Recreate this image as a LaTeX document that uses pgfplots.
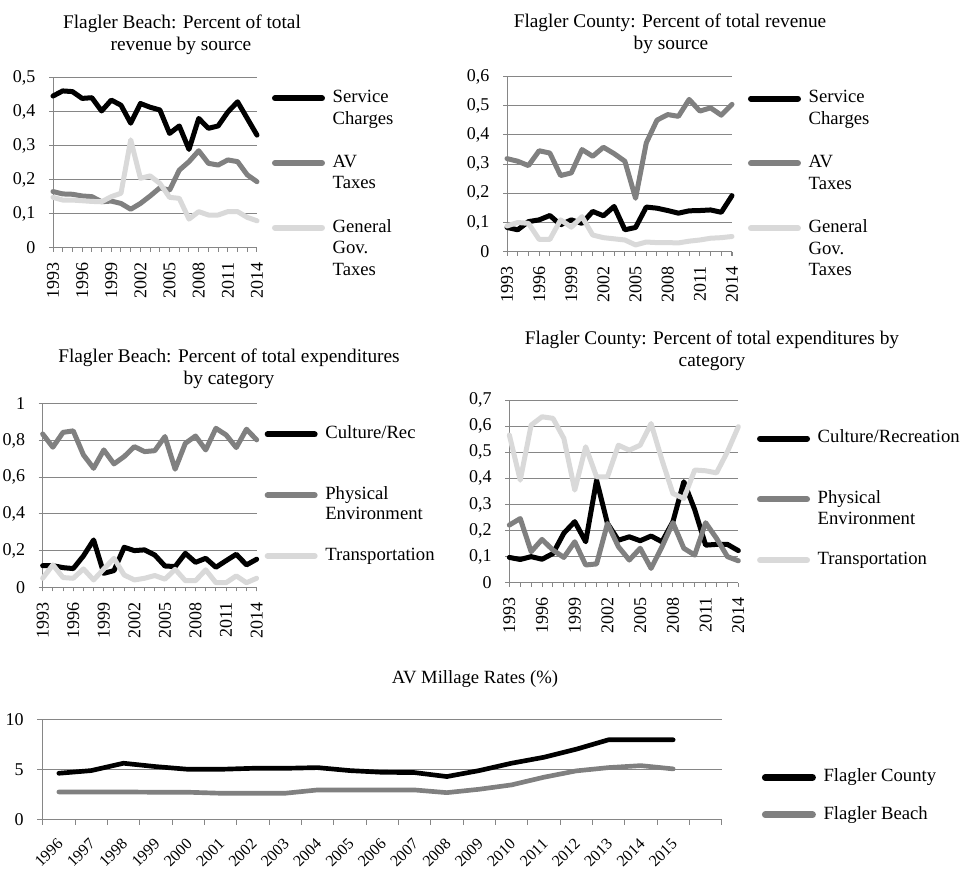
\documentclass[border=0pt]{standalone}
\usepackage{fontspec}
\setmainfont{Liberation Serif}
\usepackage{pgfplots}
\usepackage{pgfplotstable}
\pgfplotsset{compat=1.18}

\definecolor{sblack}{RGB}{0,0,0}
\definecolor{sgray}{RGB}{128,128,128}
\definecolor{slight}{RGB}{217,217,217}
\definecolor{axgray}{RGB}{134,134,134}

\newcommand\fs{\fontsize{13.5}{16.5}\selectfont}
\newcommand\fl{\fontsize{14}{16.5}\selectfont}
\newcommand\ft{\fontsize{14.5}{16.5}\selectfont}
\newcommand\ls{\rule[-3pt]{0pt}{13pt}}
% a legend row that carries only text (second line of an entry, or a gap)
\newcommand\more[1]{\addlegendimage{empty legend}\addlegendentry{\ls #1}}

% Flagler Beach revenue shares
\pgfplotstableread{
year sc av gg
1993 0.447 0.166 0.149
1994 0.462 0.159 0.141
1995 0.460 0.158 0.141
1996 0.440 0.153 0.139
1997 0.442 0.151 0.137
1998 0.403 0.136 0.136
1999 0.435 0.138 0.151
2000 0.420 0.131 0.161
2001 0.367 0.114 0.318
2002 0.425 0.131 0.205
2003 0.414 0.153 0.212
2004 0.406 0.177 0.190
2005 0.337 0.170 0.149
2006 0.359 0.229 0.146
2007 0.290 0.254 0.085
2008 0.381 0.286 0.107
2009 0.352 0.249 0.097
2010 0.359 0.244 0.097
2011 0.400 0.259 0.107
2012 0.430 0.254 0.107
2013 0.381 0.215 0.090
2014 0.332 0.195 0.080
}\beachrev

% Flagler County revenue shares
\pgfplotstableread{
year sc av gg
1993 0.083 0.319 0.088
1994 0.075 0.310 0.100
1995 0.103 0.295 0.097
1996 0.109 0.346 0.042
1997 0.124 0.338 0.042
1998 0.092 0.261 0.109
1999 0.109 0.270 0.084
2000 0.097 0.350 0.120
2001 0.138 0.327 0.057
2002 0.123 0.358 0.048
2003 0.155 0.336 0.044
2004 0.075 0.310 0.040
2005 0.083 0.183 0.023
2006 0.153 0.373 0.033
2007 0.149 0.451 0.031
2008 0.141 0.470 0.031
2009 0.132 0.464 0.030
2010 0.140 0.522 0.036
2011 0.141 0.482 0.040
2012 0.143 0.493 0.046
2013 0.135 0.468 0.048
2014 0.192 0.505 0.052
}\countyrev

% Flagler Beach expenditure shares
\pgfplotstableread{
year cr pe tr
1993 0.118 0.836 0.049
1994 0.118 0.764 0.122
1995 0.107 0.845 0.053
1996 0.102 0.853 0.049
1997 0.171 0.722 0.100
1998 0.258 0.649 0.040
1999 0.076 0.749 0.100
2000 0.091 0.673 0.158
2001 0.218 0.713 0.067
2002 0.200 0.767 0.040
2003 0.204 0.740 0.049
2004 0.176 0.745 0.064
2005 0.116 0.822 0.044
2006 0.113 0.644 0.098
2007 0.185 0.785 0.036
2008 0.136 0.825 0.036
2009 0.158 0.749 0.095
2010 0.109 0.867 0.025
2011 0.145 0.831 0.025
2012 0.180 0.762 0.062
2013 0.122 0.862 0.025
2014 0.153 0.804 0.049
}\beachexp

% Flagler County expenditure shares
\pgfplotstableread{
year cr pe tr
1993 0.097 0.221 0.566
1994 0.089 0.246 0.393
1995 0.100 0.119 0.604
1996 0.090 0.166 0.636
1997 0.112 0.125 0.630
1998 0.190 0.097 0.553
1999 0.234 0.157 0.355
2000 0.157 0.068 0.521
2001 0.393 0.072 0.406
2002 0.227 0.227 0.406
2003 0.163 0.138 0.527
2004 0.176 0.087 0.508
2005 0.161 0.132 0.527
2006 0.179 0.055 0.610
2007 0.157 0.138 0.470
2008 0.234 0.230 0.342
2009 0.387 0.132 0.323
2010 0.280 0.106 0.432
2011 0.144 0.230 0.429
2012 0.147 0.170 0.421
2013 0.147 0.100 0.502
2014 0.123 0.084 0.598
}\countyexp

% AV millage rates, x = 0 is 1996
\pgfplotstableread{
x fc fb
0  4.63 2.75
1  4.90 2.75
2  5.64 2.75
3  5.30 2.72
4  5.03 2.72
5  5.03 2.62
6  5.13 2.62
7  5.13 2.62
8  5.20 2.95
9  4.90 2.95
10 4.73 2.95
11 4.70 2.95
12 4.30 2.68
13 4.90 3.02
14 5.64 3.46
15 6.24 4.23
16 7.05 4.87
17 8.00 5.20
18 8.00 5.40
19 8.00 5.07
}\millage

\pgfplotsset{
  panel/.style={
    scale only axis, clip=false,
    axis x line*=bottom, axis y line*=left,
    axis line style={draw=axgray, line width=0.75pt},
    ymajorgrids, major grid style={draw=axgray, line width=0.75pt},
    tick style={draw=axgray, line width=0.75pt},
    tick align=outside, major tick length=3pt, minor tick length=3pt,
    tick label style={font=\fs, inner sep=0pt},
    /pgf/number format/assume math mode=true,
    yticklabel style={anchor=east, xshift=-10pt,
      /pgf/number format/.cd, fixed, precision=1, use comma},
    legend style={draw=none, fill=none, inner sep=0pt, outer sep=0pt,
      anchor=north west, font=\fl, cells={anchor=base west},
      column sep=3.75pt},
    legend image code/.code={\draw[##1, line width=4.5pt, line cap=round]
      (2.25pt,0.33em) -- (37.5pt,0.33em);},
    every axis plot/.append style={line width=3.75pt, line join=round,
      line cap=round, no markers},
  },
  years/.style={
    xmin=1993, xmax=2014,
    xtick={1993,1996,...,2014}, minor xtick={1993,...,2014},
    xticklabel style={yshift=-8pt, rotate=90, anchor=east,
      /pgf/number format/1000 sep={}},
  },
}

\begin{document}
\begin{tikzpicture}
\path[use as bounding box] (0,0) rectangle (728.25pt,653.25pt);

% Flagler Beach revenue
\begin{axis}[panel, years, at={(39.75pt,467.25pt)}, anchor=south west,
  width=153pt, height=127.5pt, ymin=0, ymax=0.5,
  ytick={0,0.1,0.2,0.3,0.4,0.5},
  legend style={at={(1.0735,0.948)}, row sep=0.65pt}]
\addplot[sblack] table[x=year, y=sc] {\beachrev};
\addlegendentry{\ls Service}
\more{Charges}\more{}
\addplot[sgray] table[x=year, y=av] {\beachrev};
\addlegendentry{\ls AV}
\more{Taxes}\more{}
\addplot[slight] table[x=year, y=gg] {\beachrev};
\addlegendentry{\ls General}
\more{Gov.}\more{Taxes}
\end{axis}

% Flagler County revenue
\begin{axis}[panel, years, at={(380.25pt,464.5pt)}, anchor=south west,
  width=168.75pt, height=131.25pt, ymin=0, ymax=0.6,
  ytick={0,0.1,0.2,0.3,0.4,0.5,0.6},
  legend style={at={(1.071,0.941)}, row sep=0.7pt}]
\addplot[sblack] table[x=year, y=sc] {\countyrev};
\addlegendentry{\ls Service}
\more{Charges}\more{}
\addplot[sgray] table[x=year, y=av] {\countyrev};
\addlegendentry{\ls AV}
\more{Taxes}\more{}
\addplot[slight] table[x=year, y=gg] {\countyrev};
\addlegendentry{\ls General}
\more{Gov.}\more{Taxes}
\end{axis}

% Flagler Beach expenditures
\begin{axis}[panel, years, at={(32pt,212.8pt)}, anchor=south west,
  width=160.5pt, height=137.5pt, ymin=0, ymax=1,
  ytick={0,0.2,0.4,0.6,0.8,1},
  legend style={at={(1.0374,0.897)}, row sep=-0.3pt}]
\addplot[sblack] table[x=year, y=cr] {\beachexp};
\addlegendentry{\ls Culture/Rec}
\more{}\more{}
\addplot[sgray] table[x=year, y=pe] {\beachexp};
\addlegendentry{\ls Physical}
\more{Environment}\more{}
\addplot[slight] table[x=year, y=tr] {\beachexp};
\addlegendentry{\ls Transportation}
\end{axis}

% Flagler County expenditures
\begin{axis}[panel, years, at={(382pt,216.2pt)}, anchor=south west,
  width=171.75pt, height=137pt, ymin=0, ymax=0.7,
  ytick={0,0.1,0.2,0.3,0.4,0.5,0.6,0.7},
  legend style={at={(1.0817,0.8527)}, row sep=-0.3pt}]
\addplot[sblack] table[x=year, y=cr] {\countyexp};
\addlegendentry{\ls Culture/Recreation}
\more{}\more{}
\addplot[sgray] table[x=year, y=pe] {\countyexp};
\addlegendentry{\ls Physical}
\more{Environment}\more{}
\addplot[slight] table[x=year, y=tr] {\countyexp};
\addlegendentry{\ls Transportation}
\end{axis}

% AV millage rates
\begin{axis}[panel, at={(32pt,38.8pt)}, anchor=south west,
  width=509.25pt, height=74.5pt, ymin=0, ymax=10, ytick={0,5,10},
  yticklabel style={/pgf/number format/.cd, fixed, precision=0},
  xmin=-0.5, xmax=20.5, xtick={-0.5,0.5,...,20.5}, xticklabels={},
  major tick length=4pt,
  extra x ticks={0,...,19},
  extra x tick labels={1996,1997,1998,1999,2000,2001,2002,2003,2004,2005,
    2006,2007,2008,2009,2010,2011,2012,2013,2014,2015},
  extra x tick style={major tick length=0pt,
    xticklabel style={font=\fontsize{12}{14}\selectfont, xshift=-2pt,
      yshift=-13.5pt, rotate=45, anchor=north east}},
  every axis plot/.append style={line width=3.5pt},
  legend image code/.code={\draw[#1, line width=5pt, line cap=round]
      (2.5pt,0.33em) -- (38pt,0.33em);},
  legend style={at={(1.0593,0.538)}, row sep=12.5pt}]
\addplot[sblack] table[x=x, y=fc] {\millage};
\addlegendentry{\ls Flagler County}
\addplot[sgray] table[x=x, y=fb] {\millage};
\addlegendentry{\ls Flagler Beach}
\end{axis}

% titles
\begin{scope}[every node/.style={font=\ft, inner sep=0pt, anchor=base}]
\node at (136.5pt,632pt) {Flagler Beach: Percent of total};
\node at (135.75pt,615.5pt) {revenue by source};
\node at (502.5pt,632.5pt) {Flagler County: Percent of total revenue};
\node at (503.25pt,616pt) {by source};
\node at (171.75pt,381.5pt) {Flagler Beach: Percent of total expenditures};
\node at (171.75pt,365pt) {by category};
\node at (534pt,395pt) {Flagler County: Percent of total expenditures by};
\node at (534pt,378.5pt) {category};
\node[font=\fl] at (356.25pt,140.7pt) {AV Millage Rates (\%)};
\end{scope}
\end{tikzpicture}
\end{document}
